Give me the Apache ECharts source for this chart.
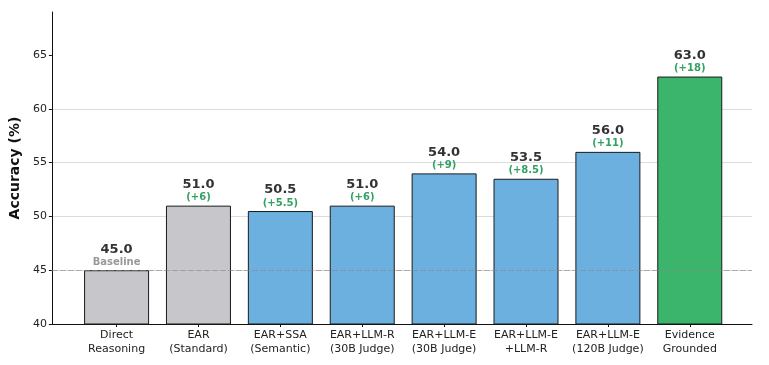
<!DOCTYPE html>
<html>
<head>
<meta charset="utf-8">
<script src="https://cdn.jsdelivr.net/npm/echarts@6/dist/echarts.min.js"></script>
<style>
html,body{margin:0;padding:0;background:#fff;}
#chart{width:769px;height:365px;}
</style>
</head>
<body>
<div id="chart"></div>
<script>
const categories = ['Direct\nReasoning','EAR\n(Standard)','EAR+SSA\n(Semantic)','EAR+LLM-R\n(30B Judge)','EAR+LLM-E\n(30B Judge)','EAR+LLM-E\n+LLM-R','EAR+LLM-E\n(120B Judge)','Evidence\nGrounded'];
const accuracy = [45.0, 51.0, 50.5, 51.0, 54.0, 53.5, 56.0, 63.0];
const deltaLabels = ['Baseline','(+6)','(+5.5)','(+6)','(+9)','(+8.5)','(+11)','(+18)'];
const groups = ['base','base','variant','variant','variant','variant','variant','ours'];
const yTicks = [40, 45, 50, 55, 60, 65];
const baselineValue = 45;

const groupColor = {base:'#c6c6cb', variant:'#6cb0e0', ours:'#3bb46c'};
const font = 'DejaVu Sans';

const chart = echarts.init(document.getElementById('chart'), null, {renderer:'canvas'});
const idx = categories.map((c,i)=>i);

chart.setOption({
  animation:false,
  backgroundColor:'#fff',
  textStyle:{fontFamily:font},
  grid:{left:51, right:17, top:12, bottom:41},
  xAxis:{
    type:'value', min:-0.79, max:7.76,
    axisLine:{show:true, onZero:false, lineStyle:{color:'#111', width:1}},
    axisTick:{show:true, customValues:idx, length:3, lineStyle:{color:'#111'}},
    axisLabel:{customValues:idx, formatter:(v)=>categories[Math.round(v)], color:'#222', fontSize:11, lineHeight:14, margin:4, fontFamily:font},
    splitLine:{show:false}
  },
  yAxis:{
    type:'value', min:40, max:69,
    name:'Accuracy (%)', nameLocation:'middle', nameGap:23,
    nameTextStyle:{fontSize:14, fontWeight:'bold', color:'#111', fontFamily:font},
    axisLine:{show:true, onZero:false, lineStyle:{color:'#111', width:1}},
    axisTick:{show:true, customValues:yTicks, length:3, lineStyle:{color:'#111'}},
    axisLabel:{customValues:yTicks, color:'#222', fontSize:11, margin:5, fontFamily:font},
    splitLine:{show:true, showMinLine:false, showMaxLine:false, lineStyle:{color:'#dcdcdc', width:1}}
  },
  series:[{
    type:'bar',
    barWidth:65,
    data: accuracy.map((v,i)=>({
      value:[i, v],
      itemStyle:{color:groupColor[groups[i]], borderColor:'#1a1a1a', borderWidth:1},
      label:{
        show:true, position:'top', distance:2,
        formatter: v.toFixed(1) + '\n{' + (i===0?'b':'d') + '|' + deltaLabels[i] + '}',
        fontSize:13, fontWeight:'bold', color:'#333', lineHeight:14, fontFamily:font,
        rich:{
          d:{fontSize:10, fontWeight:'bold', color:'#35a066', lineHeight:12, fontFamily:font},
          b:{fontSize:10, fontWeight:'bold', color:'#999', lineHeight:12, fontFamily:font}
        }
      }
    })),
    markLine:{
      silent:true, symbol:'none', z:10,
      label:{show:false},
      lineStyle:{color:'#888', width:1, type:[6,2], opacity:0.6},
      data:[{yAxis:baselineValue}]
    }
  }]
});
</script>
</body>
</html>
